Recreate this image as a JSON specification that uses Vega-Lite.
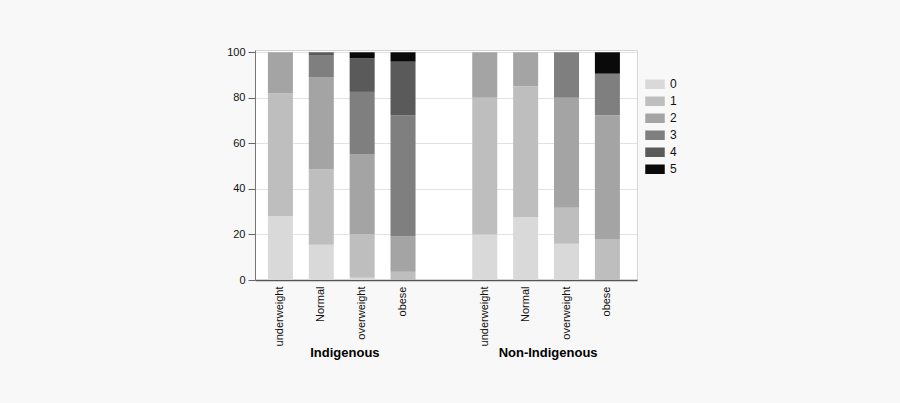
{
  "$schema": "https://vega.github.io/schema/vega-lite/v6.json",
  "width": 382,
  "height": 230,
  "padding": {"left": 226, "top": 46, "right": 223, "bottom": 44},
  "background": "#f8f8f8",
  "config": {
    "font": "Liberation Sans",
    "view": {"stroke": "#d4d4d4", "fill": "white"}
  },
  "data": {
    "values": [
      {"group": "Indigenous", "bar": "Indigenous underweight", "level": "0", "pct": 28},
      {"group": "Indigenous", "bar": "Indigenous underweight", "level": "1", "pct": 54},
      {"group": "Indigenous", "bar": "Indigenous underweight", "level": "2", "pct": 18},
      {"group": "Indigenous", "bar": "Indigenous Normal", "level": "0", "pct": 15.5},
      {"group": "Indigenous", "bar": "Indigenous Normal", "level": "1", "pct": 33},
      {"group": "Indigenous", "bar": "Indigenous Normal", "level": "2", "pct": 40.5},
      {"group": "Indigenous", "bar": "Indigenous Normal", "level": "3", "pct": 9.8},
      {"group": "Indigenous", "bar": "Indigenous Normal", "level": "4", "pct": 1.2},
      {"group": "Indigenous", "bar": "Indigenous overweight", "level": "0", "pct": 1},
      {"group": "Indigenous", "bar": "Indigenous overweight", "level": "1", "pct": 19.2},
      {"group": "Indigenous", "bar": "Indigenous overweight", "level": "2", "pct": 35.1},
      {"group": "Indigenous", "bar": "Indigenous overweight", "level": "3", "pct": 27.3},
      {"group": "Indigenous", "bar": "Indigenous overweight", "level": "4", "pct": 14.8},
      {"group": "Indigenous", "bar": "Indigenous overweight", "level": "5", "pct": 2.6},
      {"group": "Indigenous", "bar": "Indigenous obese", "level": "1", "pct": 3.6},
      {"group": "Indigenous", "bar": "Indigenous obese", "level": "2", "pct": 15.7},
      {"group": "Indigenous", "bar": "Indigenous obese", "level": "3", "pct": 52.9},
      {"group": "Indigenous", "bar": "Indigenous obese", "level": "4", "pct": 23.7},
      {"group": "Indigenous", "bar": "Indigenous obese", "level": "5", "pct": 4.1},
      {"group": "Non-Indigenous", "bar": "Non-Indigenous underweight", "level": "0", "pct": 20},
      {"group": "Non-Indigenous", "bar": "Non-Indigenous underweight", "level": "1", "pct": 60},
      {"group": "Non-Indigenous", "bar": "Non-Indigenous underweight", "level": "2", "pct": 20},
      {"group": "Non-Indigenous", "bar": "Non-Indigenous Normal", "level": "0", "pct": 27.6},
      {"group": "Non-Indigenous", "bar": "Non-Indigenous Normal", "level": "1", "pct": 57.5},
      {"group": "Non-Indigenous", "bar": "Non-Indigenous Normal", "level": "2", "pct": 14.9},
      {"group": "Non-Indigenous", "bar": "Non-Indigenous overweight", "level": "0", "pct": 15.9},
      {"group": "Non-Indigenous", "bar": "Non-Indigenous overweight", "level": "1", "pct": 15.8},
      {"group": "Non-Indigenous", "bar": "Non-Indigenous overweight", "level": "2", "pct": 48.3},
      {"group": "Non-Indigenous", "bar": "Non-Indigenous overweight", "level": "3", "pct": 20},
      {"group": "Non-Indigenous", "bar": "Non-Indigenous obese", "level": "1", "pct": 18},
      {"group": "Non-Indigenous", "bar": "Non-Indigenous obese", "level": "2", "pct": 54.4},
      {"group": "Non-Indigenous", "bar": "Non-Indigenous obese", "level": "3", "pct": 18.2},
      {"group": "Non-Indigenous", "bar": "Non-Indigenous obese", "level": "5", "pct": 9.4}
    ]
  },
  "layer": [
    {
      "mark": {"type": "bar"},
      "encoding": {
        "x": {
          "field": "bar",
          "type": "nominal",
          "scale": {
            "domain": ["Indigenous underweight", "Indigenous Normal", "Indigenous overweight", "Indigenous obese", "gap", "Non-Indigenous underweight", "Non-Indigenous Normal", "Non-Indigenous overweight", "Non-Indigenous obese"],
            "paddingInner": 0.388,
            "paddingOuter": 0.367,
            "align": 0.43
          },
          "axis": {
            "title": null,
            "labelExpr": "datum.value == 'gap' ? '' : split(datum.value, ' ')[1]",
            "labelAngle": -90,
            "labelAlign": "right",
            "labelBaseline": "middle",
            "labelPadding": 6,
            "labelFontSize": 11,
            "labelColor": "#111",
            "ticks": false,
            "domainColor": "#555",
            "domainWidth": 1.5
          }
        },
        "y": {
          "field": "pct",
          "type": "quantitative",
          "stack": "zero",
          "scale": {"domain": [0, 101], "nice": false},
          "axis": {
            "title": null,
            "values": [0, 20, 40, 60, 80, 100],
            "tickSize": 7,
            "tickColor": "#666",
            "labelPadding": 3,
            "labelFontSize": 11,
            "labelColor": "#111",
            "domainColor": "#777",
            "gridColor": "#e2e2e2"
          }
        },
        "color": {
          "field": "level",
          "type": "nominal",
          "scale": {
            "domain": ["0", "1", "2", "3", "4", "5"],
            "range": ["#d9d9d9", "#bebebe", "#a4a4a4", "#7f7f7f", "#5a5a5a", "#0a0a0a"]
          },
          "legend": {
            "title": null,
            "orient": "none",
            "legendX": 390,
            "legendY": 27,
            "symbolType": "M-1,-0.5H1V0.5H-1Z",
            "symbolSize": 380,
            "symbolStrokeWidth": 0,
            "symbolOpacity": 1,
            "clipHeight": 14.5,
            "rowPadding": 2,
            "labelFontSize": 12,
            "labelColor": "#111",
            "labelOffset": 5
          }
        },
        "order": {"field": "level", "type": "ordinal", "sort": "ascending"}
      }
    },
    {
      "mark": {"type": "text", "opacity": 0, "text": ""},
      "encoding": {
        "x": {
          "field": "group",
          "type": "nominal",
          "scale": {"type": "point", "padding": 0.44, "domain": ["Indigenous", "Non-Indigenous"]},
          "axis": {
            "orient": "bottom",
            "title": null,
            "offset": 64,
            "domain": false,
            "ticks": false,
            "grid": false,
            "labelAngle": 0,
            "labelPadding": 2,
            "labelFontSize": 13,
            "labelFontWeight": "bold",
            "labelColor": "#000"
          }
        }
      }
    }
  ],
  "resolve": {"scale": {"x": "independent"}, "axis": {"x": "independent"}}
}
